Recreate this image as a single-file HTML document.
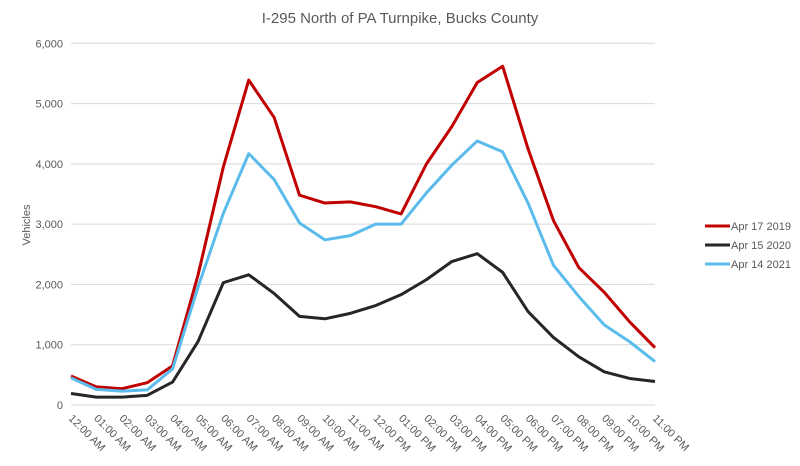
<!DOCTYPE html>
<html><head><meta charset="utf-8"><style>
body{margin:0;background:#fff;font-family:"Liberation Sans",sans-serif;}
svg text{font-family:"Liberation Sans",sans-serif;fill:#595959;}
</style></head><body>
<svg id="chart" width="800" height="461">
<text x="400" y="23" text-anchor="middle" font-size="15">I-295 North of PA Turnpike, Bucks County</text>
<text transform="translate(30,225) rotate(-90)" text-anchor="middle" font-size="11">Vehicles</text>
<g id="grid"></g><g id="yticks"></g><g id="xticks"></g><g id="lines"></g><g id="legend"></g>
</svg>
<script>
const categories=["12:00 AM","01:00 AM","02:00 AM","03:00 AM","04:00 AM","05:00 AM","06:00 AM","07:00 AM","08:00 AM","09:00 AM","10:00 AM","11:00 AM","12:00 PM","01:00 PM","02:00 PM","03:00 PM","04:00 PM","05:00 PM","06:00 PM","07:00 PM","08:00 PM","09:00 PM","10:00 PM","11:00 PM"];
const apr2019=[480,300,270,370,650,2150,3950,5390,4770,3480,3350,3370,3290,3170,4000,4620,5350,5620,4250,3060,2280,1870,1380,950];
const apr2020=[190,130,130,160,380,1050,2030,2160,1850,1470,1430,1520,1650,1830,2080,2380,2510,2200,1550,1120,800,550,440,390];
const apr2021=[450,260,230,250,600,1950,3180,4170,3740,3020,2740,2810,3000,3000,3520,3980,4380,4200,3350,2320,1800,1330,1050,720];
const yTicks=[0,1000,2000,3000,4000,5000,6000];
const seriesNames=["Apr 17 2019","Apr 15 2020","Apr 14 2021"];
const NS="http://www.w3.org/2000/svg";
const X0=71,X1=655,Y0=405,Y1=43.3,YMAX=6000;
const x=i=>X0+(X1-X0)*i/(categories.length-1);
const y=v=>Y0-(Y0-Y1)*v/YMAX;
function mk(tag,attrs,parent){const e=document.createElementNS(NS,tag);for(const k in attrs)e.setAttribute(k,attrs[k]);parent.appendChild(e);return e;}
const grid=document.getElementById('grid'),yt=document.getElementById('yticks'),xt=document.getElementById('xticks'),lines=document.getElementById('lines'),leg=document.getElementById('legend');
yTicks.forEach(v=>{
 const l=mk('line',{x1:X0,x2:X1,y1:y(v),y2:y(v),stroke:'#d9d9d9','stroke-width':1},grid);
 
 
 const t=mk('text',{x:63,y:y(v)+4,'text-anchor':'end','font-size':11},yt);
 t.textContent=v.toLocaleString('en-US');
 
 
});
categories.forEach((c,i)=>{
 const t=mk('text',{x:0,y:0,'font-size':11,transform:`translate(${x(i)-3},${Y0+14}) rotate(45)`},xt);
 t.textContent=c;
 
 
});
const colors=['#c00000','#262626','#5bbcec'];
[apr2019,apr2020,apr2021].forEach((s,k)=>{
 const p=mk('polyline',{points:s.map((v,i)=>x(i)+','+y(v)).join(' '),fill:'none',stroke:colors[k],'stroke-width':3,'stroke-linejoin':'round'},lines);
 
 
 const ly=226+k*19;
 const l=mk('line',{x1:705,x2:730,y1:ly,y2:ly,stroke:colors[k],'stroke-width':3},leg);
 
 
 const t=mk('text',{x:731,y:ly+4,'font-size':11},leg);
 t.textContent=seriesNames[k];
 
 
});
</script>
</body></html>
